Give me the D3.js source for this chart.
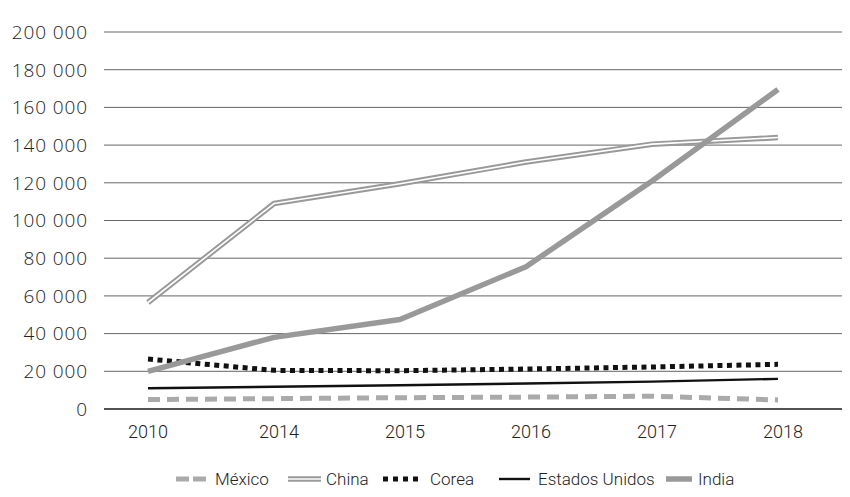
<!DOCTYPE html>
<html>
<head>
<meta charset="utf-8">
<title></title>
<style>
  body { margin: 0; background: #fff; }
</style>
</head>
<body>
<svg id="chart" width="850" height="497"></svg>
<script src="https://d3js.org/d3.v7.min.js"></script>
<script>
// data
const years = ["2010", "2014", "2015", "2016", "2017", "2018"];
const mexico = [5000, 5500, 6000, 6300, 6800, 4800];
const china = [56500, 109000, 119500, 131000, 140500, 144000];
const corea = [26500, 20500, 20300, 21200, 22300, 23700];
const estadosUnidos = [11000, 11800, 12600, 13500, 14500, 16000];
const india = [20000, 38000, 47500, 75500, 121000, 169500];
const yTicks = [0, 20000, 40000, 60000, 80000, 100000, 120000, 140000, 160000, 180000, 200000];

const svg = d3.select("#chart");
const gridLeft = 104, gridRight = 842, plotTop = 32, plotBottom = 409;

const x = d3.scalePoint().domain(years).range([148, 778]);
const y = d3.scaleLinear().domain([0, 200000]).range([plotBottom, plotTop]);

const fmt = v => d3.format(",")(v).replace(/,/g, " ");

// gridlines
svg.append("g")
    .selectAll("line")
    .data(yTicks)
    .join("line")
    .attr("x1", gridLeft).attr("x2", gridRight)
    .attr("y1", d => y(d)).attr("y2", d => y(d))
    .attr("stroke", d => d === 0 ? "#1a1a1a" : "#666")
    .attr("stroke-width", d => d === 0 ? 1.6 : 1);

// y labels
svg.append("g")
    .attr("font-family", "'Open Sans', sans-serif")
    .attr("font-size", 19)
    .attr("font-weight", 300)
    .attr("fill", "#222")
    .selectAll("text")
    .data(yTicks)
    .join("text")
    .attr("x", 88)
    .attr("y", d => y(d))
    .attr("dy", "0.36em")
    .attr("text-anchor", "end")
    .attr("letter-spacing", 0.9)
    .text(fmt);

// x labels
svg.append("g")
    .attr("font-family", "Roboto, sans-serif")
    .attr("font-size", 18)
    .attr("font-weight", 300)
    .attr("fill", "#222")
    .selectAll("text")
    .data(years)
    .join("text")
    .attr("x", (d, i) => x(d) + (i ? 5 : 0))
    .attr("y", 438)
    .attr("text-anchor", "middle")
    .text(d => d);

const line = vals => d3.line()
    .x((d, i) => x(years[i]))
    .y(d => y(d))(vals);

const series = [
    { name: "México", values: mexico, layers: [{ stroke: "#aaa", width: 5, dash: "12,7" }] },
    { name: "China", values: china, layers: [{ stroke: "#999", width: 5.5 }, { stroke: "#fff", width: 1.6 }] },
    { name: "Corea", values: corea, layers: [{ stroke: "#111", width: 5, dash: "5,4.5" }] },
    { name: "Estados Unidos", values: estadosUnidos, layers: [{ stroke: "#111", width: 2.4 }] },
    { name: "India", values: india, layers: [{ stroke: "#999", width: 5.5 }] }
];

const drawOrder = ["México", "Estados Unidos", "Corea", "China", "India"];
drawOrder.forEach(n => {
    const s = series.find(d => d.name === n);
    s.layers.forEach(l => {
        svg.append("path")
            .attr("d", line(s.values))
            .attr("fill", "none")
            .attr("stroke", l.stroke)
            .attr("stroke-width", l.width)
            .attr("stroke-dasharray", l.dash || null)
            .attr("stroke-linejoin", "round");
    });
});

// legend
const legendSwatchX = [176, 288, 383, 499, 666];
const legendSwatchW = [30, 33, 36, 31, 26];
const legendTextX = [215, 326, 430, 538, 698];
const legend = svg.append("g")
    .attr("font-family", "Roboto, sans-serif")
    .attr("font-size", 17)
    .attr("font-weight", 300)
    .attr("fill", "#222");
series.forEach((s, i) => {
    const g = legend.append("g").attr("transform", "translate(0,479)");
    s.layers.forEach(l => {
        g.append("line")
            .attr("x1", legendSwatchX[i]).attr("x2", legendSwatchX[i] + legendSwatchW[i])
            .attr("y1", 0).attr("y2", 0)
            .attr("stroke", l.stroke)
            .attr("stroke-width", l.width)
            .attr("stroke-dasharray", l.dash ? (s.name === "México" ? "13,4" : "5,5") : null);
    });
    g.append("text")
        .attr("x", legendTextX[i])
        .attr("dy", "0.35em")
        .text(s.name);
});
</script>
</body>
</html>
